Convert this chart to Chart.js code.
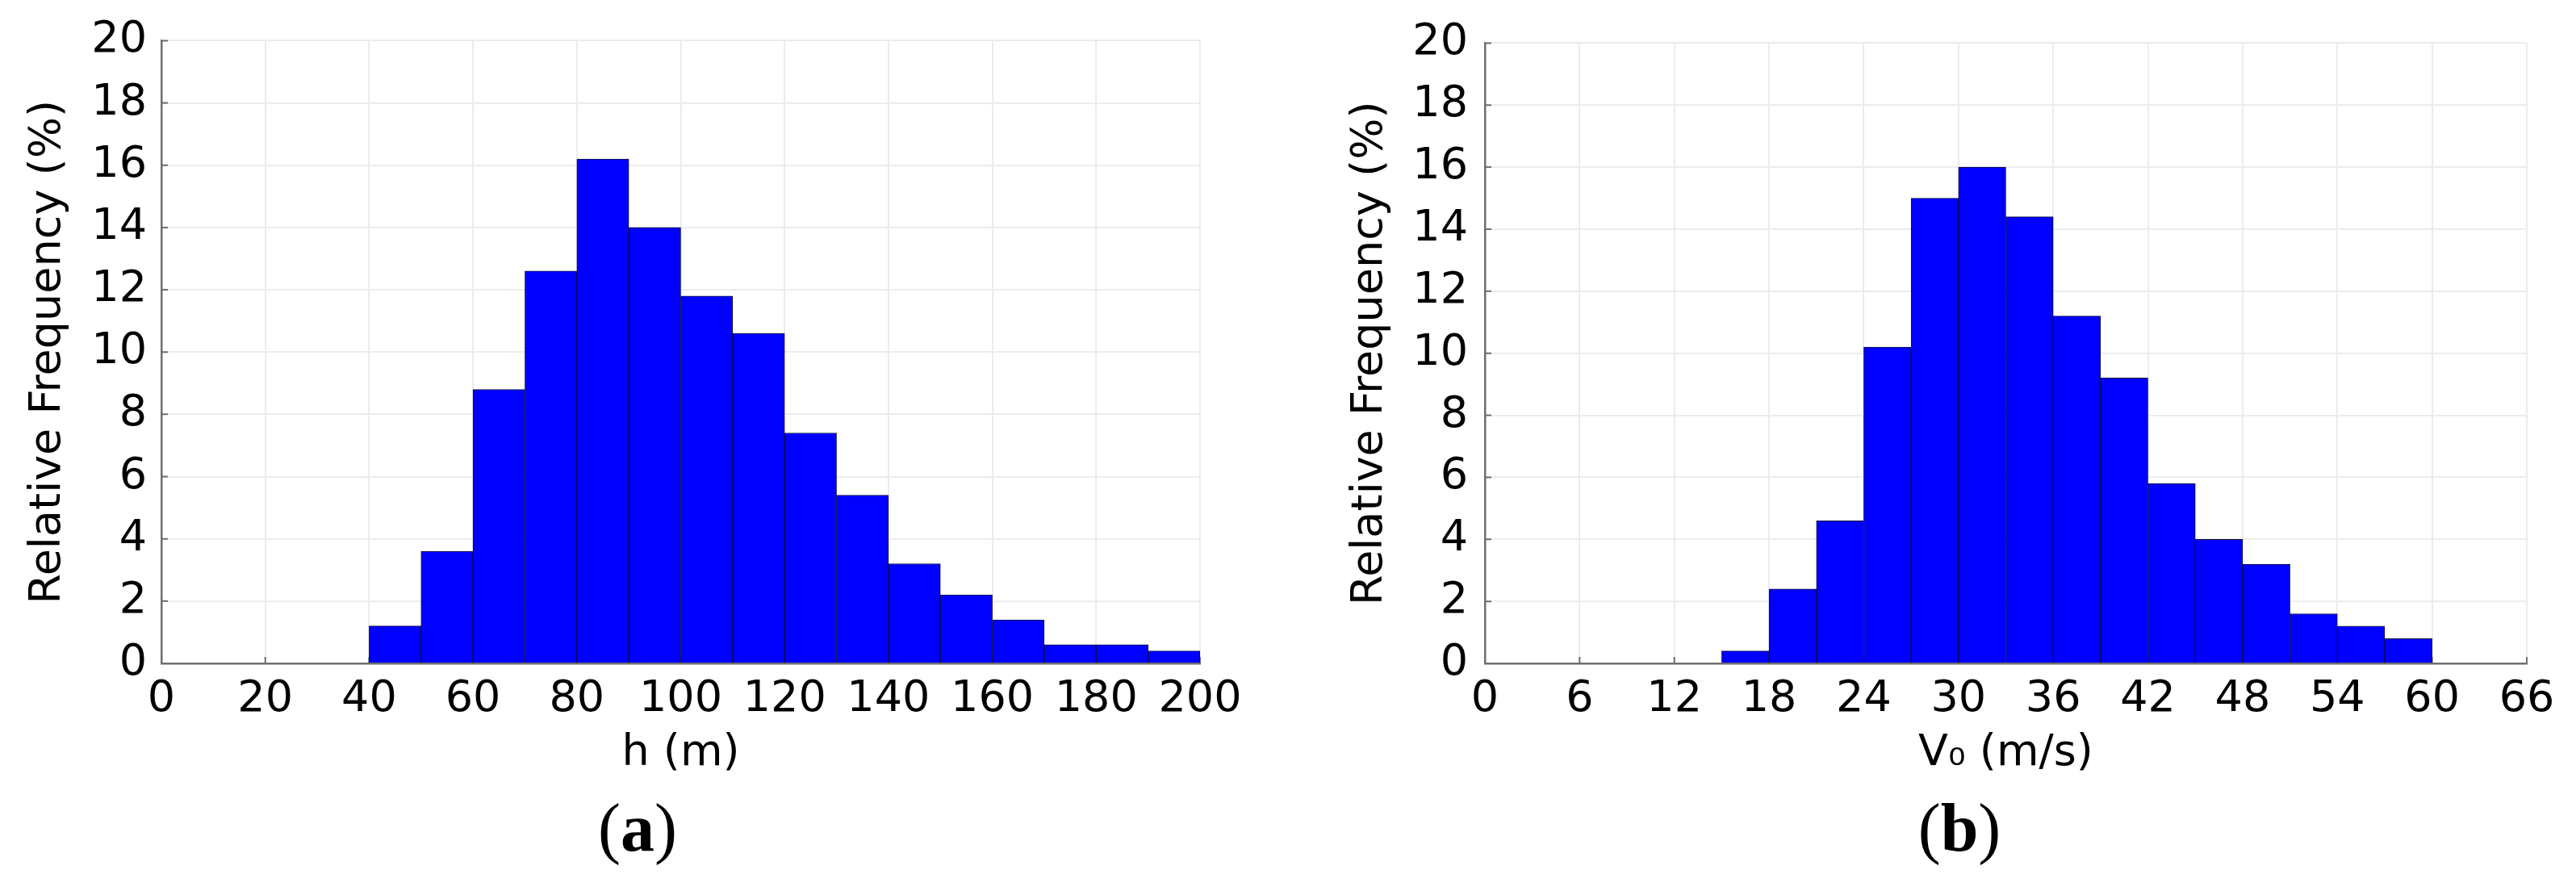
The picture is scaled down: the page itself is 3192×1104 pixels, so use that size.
<!DOCTYPE html>
<html><head><meta charset="utf-8">
<script src="https://cdn.jsdelivr.net/npm/chart.js@4.4.0/dist/chart.umd.min.js"></script>
<style>
html,body{margin:0;padding:0;background:#fff;width:3192px;height:1104px;overflow:hidden;position:relative}
canvas{position:absolute;top:0}
#ca{left:0}
#cb{left:1600px}
.panel{position:absolute;top:984px;font-family:"Liberation Serif",serif;font-size:84px;line-height:1;color:#000;transform:translateX(-50%);white-space:nowrap}
</style></head><body>
<canvas id="ca" width="1560" height="1104"></canvas>
<canvas id="cb" width="1592" height="1104"></canvas>
<div class="panel" style="left:790px">(<b>a</b>)</div>
<div class="panel" style="left:2428px">(<b>b</b>)</div>
<script>
// ---- data ----
const hBinStart = [40, 50, 60, 70, 80, 90, 100, 110, 120, 130, 140, 150, 160, 170, 180, 190];
const hBinWidth = 10;
const hFreq = [1.2, 3.6, 8.8, 12.6, 16.2, 14.0, 11.8, 10.6, 7.4, 5.4, 3.2, 2.2, 1.4, 0.6, 0.6, 0.4];

const vBinStart = [15, 18, 21, 24, 27, 30, 33, 36, 39, 42, 45, 48, 51, 54, 57];
const vBinWidth = 3;
const vFreq = [0.4, 2.4, 4.6, 10.2, 15.0, 16.0, 14.4, 11.2, 9.2, 5.8, 4.0, 3.2, 1.6, 1.2, 0.8];

const hTicks = [0, 20, 40, 60, 80, 100, 120, 140, 160, 180, 200];
const vTicks = [0, 6, 12, 18, 24, 30, 36, 42, 48, 54, 60, 66];
const freqTicks = [0, 2, 4, 6, 8, 10, 12, 14, 16, 18, 20];

const yTitle = 'Relative Frequency (%)';
const hTitle = 'h (m)';
const vTitle = 'V\u2080 (m/s)';

// ---- styling ----
const FONT = '"DejaVu Sans", sans-serif';
const AXIS = '#6e6e6e';
const GRID = '#ececec';

const inwardTicks = {
  id: 'inwardTicks',
  beforeDatasetsDraw(chart) {
    const {ctx, chartArea, scales} = chart;
    ctx.save();
    ctx.strokeStyle = AXIS;
    ctx.lineWidth = 2;
    ctx.beginPath();
    scales.x.ticks.forEach(t => {
      const px = scales.x.getPixelForValue(t.value);
      ctx.moveTo(px, chartArea.bottom);
      ctx.lineTo(px, chartArea.bottom - 8);
    });
    scales.y.ticks.forEach(t => {
      const py = scales.y.getPixelForValue(t.value);
      ctx.moveTo(chartArea.left, py);
      ctx.lineTo(chartArea.left + 8, py);
    });
    ctx.stroke();
    ctx.restore();
  }
};

function makeHist(id, starts, width, freq, xTicks, xTitle, o) {
  const pts = starts.map((s, i) => ({x: s + width / 2, y: freq[i]}));
  return new Chart(document.getElementById(id), {
    type: 'bar',
    data: {datasets: [{
      data: pts,
      backgroundColor: '#0000ff',
      borderColor: '#0b0b3a',
      borderWidth: 1,
      categoryPercentage: 1,
      barPercentage: 1,
      grouped: false
    }]},
    options: {
      responsive: false,
      animation: false,
      events: [],
      layout: {padding: {left: 0, top: 48, right: o.padRight, bottom: 118.4}},
      plugins: {legend: {display: false}, tooltip: {enabled: false}, title: {display: false}},
      scales: {
        x: {
          type: 'linear',
          min: xTicks[0], max: xTicks[xTicks.length - 1],
          offset: false,
          afterBuildTicks: s => { s.ticks = xTicks.map(v => ({value: v})); },
          afterFit: s => { s.height = 163.6; },
          grid: {color: GRID, lineWidth: 2, drawTicks: false, offset: false},
          border: {display: true, color: AXIS, width: 2.5},
          ticks: {font: {family: FONT, size: 54}, color: '#000', padding: 12.3, maxRotation: 0, autoSkip: false},
          title: {display: true, text: xTitle, font: {family: FONT, size: 54}, color: '#000', padding: {top: 0, bottom: 19}}
        },
        y: {
          min: 0, max: 20,
          afterBuildTicks: s => { s.ticks = freqTicks.map(v => ({value: v})); },
          afterFit: s => { s.width = o.yWidth; },
          grid: {color: GRID, lineWidth: 2, drawTicks: false},
          border: {display: true, color: AXIS, width: 2.5},
          ticks: {font: {family: FONT, size: 54}, color: '#000', padding: o.yTickPad, autoSkip: false},
          title: {display: true, text: yTitle, font: {family: FONT, size: 54}, color: '#000', padding: {top: o.yTitlePad, bottom: 0}}
        }
      }
    },
    plugins: [inwardTicks]
  });
}

makeHist('ca', hBinStart, hBinWidth, hFreq, hTicks, hTitle, {padRight: 73, yWidth: 200, yTickPad: 18, yTitlePad: 27.6});
makeHist('cb', vBinStart, vBinWidth, vFreq, vTicks, vTitle, {padRight: 61, yWidth: 240, yTickPad: 21, yTitlePad: 65.6});
</script>
</body></html>
